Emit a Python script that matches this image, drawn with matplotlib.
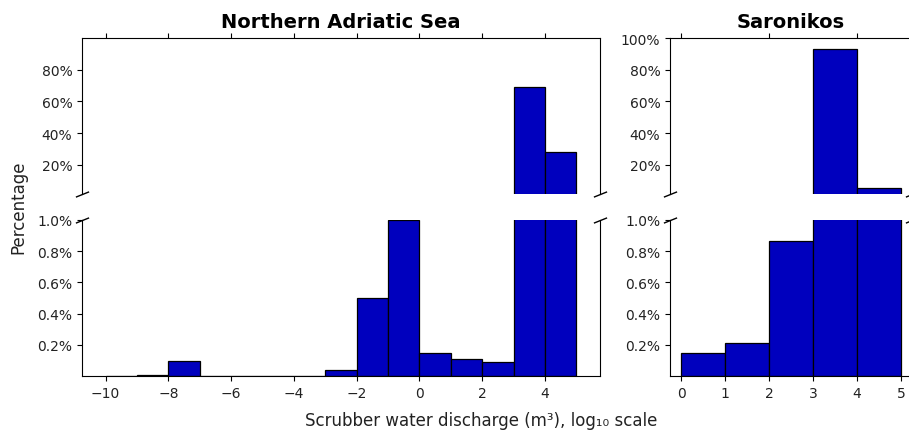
import matplotlib
matplotlib.use("Agg")
import matplotlib.pyplot as plt
from matplotlib.ticker import FuncFormatter

# histogram data, percentage of events per log10 bin
adriatic_edges = [-10, -9, -8, -7, -6, -5, -4, -3, -2, -1, 0, 1, 2, 3, 4, 5]
adriatic_pct = [0, 0.008, 0.095, 0, 0, 0, 0, 0.038, 0.5, 1.0, 0.145, 0.11, 0.087, 69.3, 28.4]

saronikos_edges = [0, 1, 2, 3, 4, 5]
saronikos_pct = [0.147, 0.213, 0.867, 93.3, 5.5]

titles = ["Northern Adriatic Sea", "Saronikos"]
adriatic_xticks = [-10, -8, -6, -4, -2, 0, 2, 4]
saronikos_xticks = [0, 1, 2, 3, 4, 5]
saronikos_top_xticks = [0, 2, 4]
adriatic_top_yticks = [20, 40, 60, 80]
saronikos_top_yticks = [20, 40, 60, 80, 100]
low_yticks = [0.2, 0.4, 0.6, 0.8, 1.0]

BAR_COLOR = "#0000BE"
W, H = 909, 431


def px(x0, y0, x1, y1):
    """pixel box (top-left origin) -> figure fraction rect"""
    return [x0 / W, 1 - y1 / H, (x1 - x0) / W, (y1 - y0) / H]


def pct_fmt(decimals):
    return FuncFormatter(lambda v, p: f"{v:.{decimals}f}%")


def draw_panel(fig, x0, x1, edges, pct, title, xticks, top_xticks, top_yticks):
    ax_top = fig.add_axes(px(x0, 39, x1, 195))
    ax_low = fig.add_axes(px(x0, 221, x1, 377))

    lefts = edges[:-1]
    widths = [b - a for a, b in zip(edges[:-1], edges[1:])]
    xlim = (edges[0] - 0.05 * (edges[-1] - edges[0]), edges[-1] + 0.05 * (edges[-1] - edges[0]))

    for ax in (ax_top, ax_low):
        ax.bar(lefts, pct, width=widths, align="edge", color=BAR_COLOR,
               edgecolor="black", linewidth=0.9)
        ax.set_xlim(*xlim)
        ax.tick_params(labelsize=10, labelcolor="#222222")

    # upper part of the broken axis
    ax_top.set_ylim(1.6, 100)
    ax_top.set_yticks(top_yticks)
    ax_top.yaxis.set_major_formatter(pct_fmt(0))
    ax_top.spines["bottom"].set_visible(False)
    ax_top.xaxis.tick_top()
    ax_top.set_xticks(top_xticks)
    ax_top.tick_params(labeltop=False)
    ax_top.set_title(title, fontsize=14, fontweight="bold", pad=8)

    # lower part
    ax_low.set_ylim(0, 1.0)
    ax_low.set_yticks(low_yticks)
    ax_low.yaxis.set_major_formatter(pct_fmt(1))
    ax_low.spines["top"].set_visible(False)
    ax_low.set_xticks(xticks)

    # slanted break marks
    d = 0.4
    kw = dict(marker=[(-1, -d), (1, d)], markersize=9.5, linestyle="none",
              color="k", mec="k", mew=1, clip_on=False)
    ax_top.plot([0, 1], [0, 0], transform=ax_top.transAxes, **kw)
    ax_low.plot([0, 1], [1, 1], transform=ax_low.transAxes, **kw)
    return ax_top, ax_low


fig = plt.figure(figsize=(W / 100, H / 100), dpi=100)

draw_panel(fig, 82, 600, adriatic_edges, adriatic_pct, titles[0],
           adriatic_xticks, adriatic_xticks, adriatic_top_yticks)
draw_panel(fig, 670, 912, saronikos_edges, saronikos_pct, titles[1],
           saronikos_xticks, saronikos_top_xticks, saronikos_top_yticks)

fig.text(481 / W, 1 - 421 / H, "Scrubber water discharge (m³), log₁₀ scale",
         ha="center", va="center", fontsize=12, color="#222222")
fig.text(18 / W, 1 - 207 / H, "Percentage", rotation=90,
         ha="center", va="center", fontsize=12, color="#222222")

fig.savefig("out.png", dpi=100)
